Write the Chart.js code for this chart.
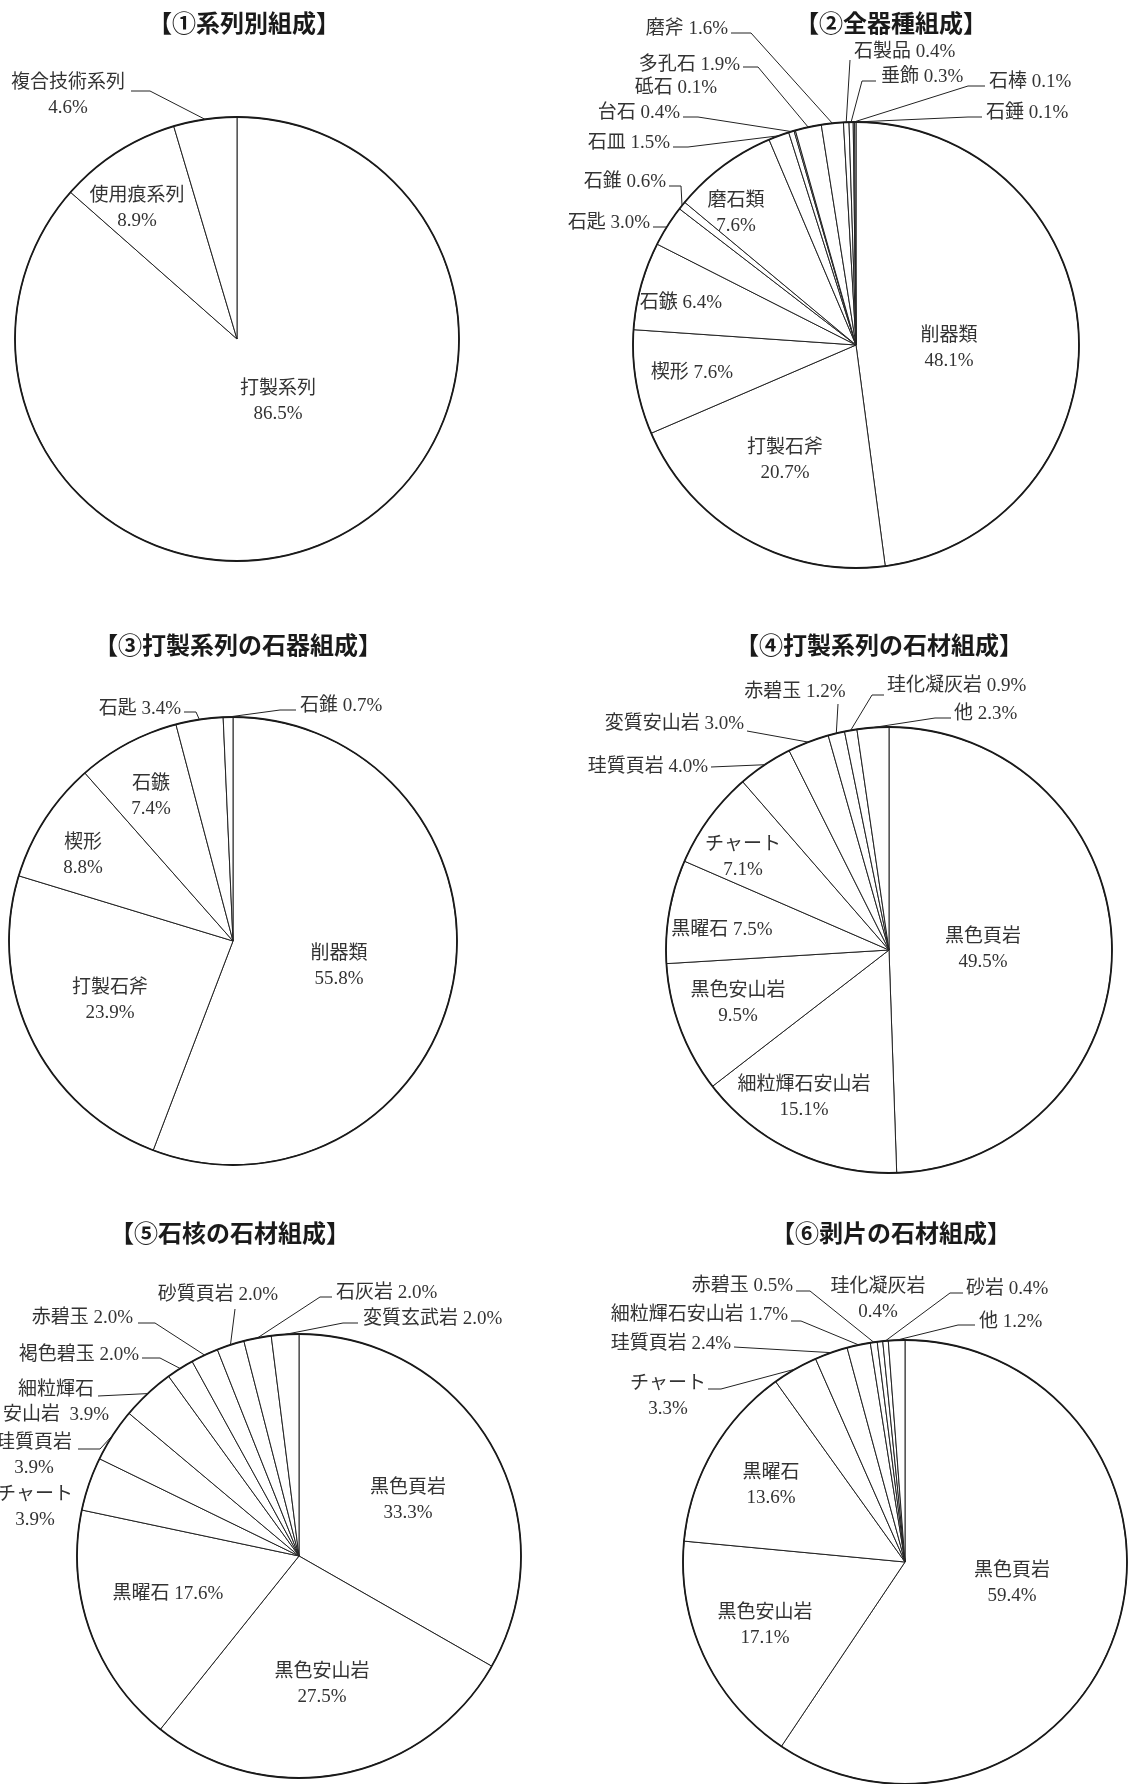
<!DOCTYPE html>
<html lang="ja">
<head>
<meta charset="utf-8">
<title>石器組成</title>
<script src="https://cdn.jsdelivr.net/npm/chart.js@4"></script>
<style>
  html, body { margin: 0; padding: 0; background: #fff; }
  #page { position: relative; width: 1128px; height: 1784px; overflow: hidden; }
  #page canvas { position: absolute; }
</style>
</head>
<body>
<div id="page">
  <canvas id="pie1" width="564" height="596" style="left:0;top:0"></canvas>
  <canvas id="pie2" width="564" height="596" style="left:564px;top:0"></canvas>
  <canvas id="pie3" width="564" height="594" style="left:0;top:596px"></canvas>
  <canvas id="pie4" width="564" height="594" style="left:564px;top:596px"></canvas>
  <canvas id="pie5" width="564" height="594" style="left:0;top:1190px"></canvas>
  <canvas id="pie6" width="564" height="594" style="left:564px;top:1190px"></canvas>
</div>
<script>
// ①系列別組成
const keiretsuLabels = ['打製系列', '使用痕系列', '複合技術系列'];
const keiretsuValues = [86.5, 8.9, 4.6];

// ②全器種組成
const kishuLabels = ['削器類', '打製石斧', '楔形', '石鏃', '石匙', '石錐', '磨石類', '石皿',
  '台石', '砥石', '多孔石', '磨斧', '石製品', '垂飾', '石棒', '石錘'];
const kishuValues = [48.1, 20.7, 7.6, 6.4, 3.0, 0.6, 7.6, 1.5, 0.4, 0.1, 1.9, 1.6, 0.4, 0.3, 0.1, 0.1];

// ③打製系列の石器組成
const dasseiKishuLabels = ['削器類', '打製石斧', '楔形', '石鏃', '石匙', '石錐'];
const dasseiKishuValues = [55.8, 23.9, 8.8, 7.4, 3.4, 0.7];

// ④打製系列の石材組成
const dasseiSekizaiLabels = ['黒色頁岩', '細粒輝石安山岩', '黒色安山岩', '黒曜石', 'チャート',
  '珪質頁岩', '変質安山岩', '赤碧玉', '珪化凝灰岩', '他'];
const dasseiSekizaiValues = [49.5, 15.1, 9.5, 7.5, 7.1, 4.0, 3.0, 1.2, 0.9, 2.3];

// ⑤石核の石材組成
const sekikakuLabels = ['黒色頁岩', '黒色安山岩', '黒曜石', 'チャート', '珪質頁岩', '細粒輝石安山岩',
  '褐色碧玉', '赤碧玉', '砂質頁岩', '石灰岩', '変質玄武岩'];
const sekikakuValues = [33.3, 27.5, 17.6, 3.9, 3.9, 3.9, 2.0, 2.0, 2.0, 2.0, 2.0];

// ⑥剥片の石材組成
const hakuhenLabels = ['黒色頁岩', '黒色安山岩', '黒曜石', 'チャート', '珪質頁岩', '細粒輝石安山岩',
  '赤碧玉', '珪化凝灰岩', '砂岩', '他'];
const hakuhenValues = [59.4, 17.1, 13.6, 3.3, 2.4, 1.7, 0.5, 0.4, 0.4, 1.2];

const titles = ['【①系列別組成】', '【②全器種組成】', '【③打製系列の石器組成】',
  '【④打製系列の石材組成】', '【⑤石核の石材組成】', '【⑥剥片の石材組成】'];

// ラベル配置（ページ座標）。split: 'inline' は1行、数値は改行位置、既定は名称／％の2行
const layout1 = [
  { i: 0, x: 278, y: 389 },
  { i: 1, x: 137, y: 196 },
  { i: 2, x: 68, y: 83, leader: [[131, 91], [150, 91]] }
];
const layout2 = [
  { i: 0, x: 949, y: 336 },
  { i: 1, x: 785, y: 448 },
  { i: 2, x: 692, y: 373, split: 'inline' },
  { i: 3, x: 681, y: 303, split: 'inline' },
  { i: 4, x: 650, y: 223, split: 'inline', align: 'right', leader: [[653, 227], [666, 227]] },
  { i: 5, x: 666, y: 182, split: 'inline', align: 'right', leader: [[669, 186], [681, 186]] },
  { i: 6, x: 736, y: 201 },
  { i: 7, x: 670, y: 143, split: 'inline', align: 'right', leader: [[673, 147], [688, 147]] },
  { i: 8, x: 680, y: 113, split: 'inline', align: 'right', leader: [[683, 117], [698, 117]] },
  { i: 9, x: 717, y: 88, split: 'inline', align: 'right' },
  { i: 10, x: 740, y: 65, split: 'inline', align: 'right', leader: [[743, 67], [758, 67]] },
  { i: 11, x: 728, y: 29, split: 'inline', align: 'right', leader: [[731, 33], [751, 33]] },
  { i: 12, x: 854, y: 52, split: 'inline', align: 'left', leader: [[850, 60]] },
  { i: 13, x: 881, y: 77, split: 'inline', align: 'left', leader: [[876, 81], [862, 81]] },
  { i: 14, x: 989, y: 82, split: 'inline', align: 'left', leader: [[985, 86], [968, 86]] },
  { i: 15, x: 986, y: 113, split: 'inline', align: 'left', leader: [[982, 117], [968, 117]] }
];
const layout3 = [
  { i: 0, x: 339, y: 954 },
  { i: 1, x: 110, y: 988 },
  { i: 2, x: 83, y: 843 },
  { i: 3, x: 151, y: 784 },
  { i: 4, x: 181, y: 709, split: 'inline', align: 'right', leader: [[184, 712], [196, 712]] },
  { i: 5, x: 300, y: 706, split: 'inline', align: 'left', leader: [[296, 710], [280, 710]] }
];
const layout4 = [
  { i: 0, x: 983, y: 937 },
  { i: 1, x: 804, y: 1085 },
  { i: 2, x: 738, y: 991 },
  { i: 3, x: 722, y: 930, split: 'inline' },
  { i: 4, x: 743, y: 845 },
  { i: 5, x: 708, y: 767, split: 'inline', align: 'right', leader: [[711, 767]] },
  { i: 6, x: 744, y: 724, split: 'inline', align: 'right', leader: [[747, 731]] },
  { i: 7, x: 795, y: 692, split: 'inline', leader: [[838, 704]] },
  { i: 8, x: 887, y: 686, split: 'inline', align: 'left', leader: [[884, 695], [872, 695]] },
  { i: 9, x: 954, y: 714, split: 'inline', align: 'left', leader: [[951, 718], [935, 718]] }
];
const layout5 = [
  { i: 0, x: 408, y: 1488 },
  { i: 1, x: 322, y: 1672 },
  { i: 2, x: 168, y: 1594, split: 'inline' },
  { i: 3, x: 35, y: 1495 },
  { i: 4, x: 34, y: 1443, leader: [[78, 1449], [100, 1449]] },
  { i: 5, x: 56, y: 1390, split: 4, leader: [[98, 1396]] },
  { i: 6, x: 139, y: 1355, split: 'inline', align: 'right', leader: [[142, 1358], [160, 1358]] },
  { i: 7, x: 133, y: 1318, split: 'inline', align: 'right', leader: [[138, 1323], [155, 1323]] },
  { i: 8, x: 218, y: 1295, split: 'inline', leader: [[235, 1309]] },
  { i: 9, x: 336, y: 1293, split: 'inline', align: 'left', leader: [[332, 1297], [320, 1297]] },
  { i: 10, x: 363, y: 1319, split: 'inline', align: 'left', leader: [[358, 1323], [343, 1323]] }
];
const layout6 = [
  { i: 0, x: 1012, y: 1571 },
  { i: 1, x: 765, y: 1613 },
  { i: 2, x: 771, y: 1473 },
  { i: 3, x: 668, y: 1384, leader: [[708, 1389], [721, 1389]] },
  { i: 4, x: 731, y: 1344, split: 'inline', align: 'right', leader: [[734, 1347]] },
  { i: 5, x: 788, y: 1315, split: 'inline', align: 'right', leader: [[791, 1321], [801, 1321]] },
  { i: 6, x: 793, y: 1286, split: 'inline', align: 'right', leader: [[796, 1291], [810, 1291]] },
  { i: 7, x: 878, y: 1287 },
  { i: 8, x: 966, y: 1289, split: 'inline', align: 'left', leader: [[963, 1293], [950, 1293]] },
  { i: 9, x: 979, y: 1322, split: 'inline', align: 'left', leader: [[975, 1325], [958, 1325]] }
];

const LABEL_FONT = '19px "Liberation Serif", "Noto Sans CJK JP", serif';
const TITLE_FONT = 'bold 24px "Noto Sans CJK JP", sans-serif';
const LINE_H = 25;

const pct = v => v.toFixed(1) + '%';

// タイトル・外周線・ラベルと引出線
const labelPlugin = {
  id: 'pieLabels',
  afterDatasetsDraw(chart) {
    const o = chart.options.plugins.pieLabels;
    const ctx = chart.ctx;
    const labels = chart.data.labels;
    const values = chart.data.datasets[0].data;
    const arcs = chart.getDatasetMeta(0).data;
    const { x: cx, y: cy, outerRadius: r } = arcs[0].getProps(['x', 'y', 'outerRadius'], true);

    ctx.save();
    ctx.strokeStyle = '#1a1a1a';
    ctx.lineWidth = 1.8;
    ctx.beginPath();
    ctx.arc(cx, cy, r, 0, Math.PI * 2);
    ctx.stroke();

    ctx.fillStyle = '#1a1a1a';
    ctx.font = TITLE_FONT;
    ctx.textAlign = 'center';
    ctx.textBaseline = 'middle';
    ctx.fillText(o.title, o.titleX - o.ox, o.titleY - o.oy);

    ctx.font = LABEL_FONT;
    ctx.fillStyle = '#333';
    ctx.strokeStyle = '#222';
    ctx.lineWidth = 1;
    o.items.forEach(item => {
      const name = labels[item.i];
      const val = pct(values[item.i]);
      let lines;
      if (item.split === 'inline') lines = [name + ' ' + val];
      else if (typeof item.split === 'number') lines = [name.slice(0, item.split), name.slice(item.split) + '  ' + val];
      else lines = [name, val];
      ctx.textAlign = item.align || 'center';
      lines.forEach((t, k) => ctx.fillText(t, item.x - o.ox, item.y - o.oy + k * LINE_H));

      if (item.leader) {
        const a = arcs[item.i].getProps(['startAngle', 'endAngle'], true);
        const mid = (a.startAngle + a.endAngle) / 2;
        ctx.beginPath();
        item.leader.forEach(([px, py], k) => {
          if (k === 0) ctx.moveTo(px - o.ox, py - o.oy);
          else ctx.lineTo(px - o.ox, py - o.oy);
        });
        ctx.lineTo(cx + r * Math.cos(mid), cy + r * Math.sin(mid));
        ctx.stroke();
      }
    });
    ctx.restore();
  }
};

function makePie(id, labels, values, cfg) {
  const canvas = document.getElementById(id);
  const W = canvas.width, H = canvas.height;
  const lx = cfg.cx - cfg.ox, ly = cfg.cy - cfg.oy;
  const half = Math.min(lx, ly, W - lx, H - ly);
  new Chart(canvas, {
    type: 'pie',
    data: {
      labels: labels,
      datasets: [{
        data: values,
        radius: cfg.r,
        backgroundColor: '#fff',
        borderColor: '#222',
        borderWidth: 1,
        clip: false
      }]
    },
    options: {
      responsive: false,
      animation: false,
      events: [],
      layout: { padding: { left: lx - half, right: W - lx - half, top: ly - half, bottom: H - ly - half } },
      plugins: {
        legend: { display: false },
        tooltip: { enabled: false },
        pieLabels: {
          ox: cfg.ox, oy: cfg.oy, title: cfg.title, titleX: cfg.titleX, titleY: cfg.titleY, items: cfg.items
        }
      }
    },
    plugins: [labelPlugin]
  });
}

makePie('pie1', keiretsuLabels, keiretsuValues,
  { ox: 0, oy: 0, cx: 237, cy: 339, r: 222, title: titles[0], titleX: 244, titleY: 23, items: layout1 });
makePie('pie2', kishuLabels, kishuValues,
  { ox: 564, oy: 0, cx: 856, cy: 345, r: 223, title: titles[1], titleX: 891, titleY: 23, items: layout2 });
makePie('pie3', dasseiKishuLabels, dasseiKishuValues,
  { ox: 0, oy: 596, cx: 233, cy: 941, r: 224, title: titles[2], titleX: 238, titleY: 645, items: layout3 });
makePie('pie4', dasseiSekizaiLabels, dasseiSekizaiValues,
  { ox: 564, oy: 596, cx: 889, cy: 950, r: 223, title: titles[3], titleX: 879, titleY: 645, items: layout4 });
makePie('pie5', sekikakuLabels, sekikakuValues,
  { ox: 0, oy: 1190, cx: 299, cy: 1556, r: 222, title: titles[4], titleX: 230, titleY: 1233, items: layout5 });
makePie('pie6', hakuhenLabels, hakuhenValues,
  { ox: 564, oy: 1190, cx: 905, cy: 1562, r: 222, title: titles[5], titleX: 891, titleY: 1233, items: layout6 });
</script>
</body>
</html>
